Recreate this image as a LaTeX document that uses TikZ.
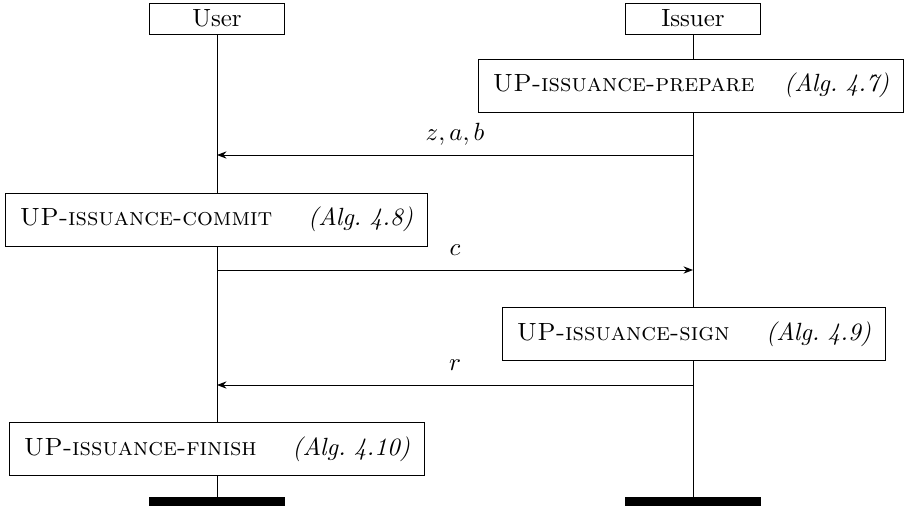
\documentclass[tikz,border=0pt]{standalone}
\usepackage{amsmath,amssymb}
\usepackage{tikz}
\usetikzlibrary{positioning, arrows.meta}

\begin{document}
\begin{tikzpicture}[x=0.4014pt, y=-0.4014pt, >={Stealth[length=3.8pt,width=2.9pt]},
        thread/.style={draw, fill=white, minimum width=54.2pt, minimum height=12.44pt, inner sep=0pt},
        callbox/.style={draw, fill=white, minimum height=21.27pt, inner xsep=5.62pt, inner ysep=0pt, align=left},
        threadend/.style={fill=black, minimum width=54.2pt, minimum height=3.61pt, inner sep=0pt},
        msglabel/.style={above=5.62pt, inner sep=0pt, text depth=0pt}]
        \useasboundingbox (0,0) rectangle (904,507);

        % Threads
        \node (user) [thread] at (217,18.5) {User};
        \node (issuer) [thread] at (693,18.5) {Issuer};
        \node (user-end) [threadend] at (217,501.5) {};
        \node (issuer-end) [threadend] at (693,501.5) {};
        \draw (user) -- (user-end);
        \draw (issuer) -- (issuer-end);

        % Calls
        \node (prepare) [callbox, text width=158.96pt] at (691,85.5)
            {\textsc{UP-issuance-prepare}\hfill\textit{(Alg.\ 4.7)}};
        \node (commit) [callbox, text width=157.75pt] at (216.5,219.5)
            {\textsc{UP-issuance-commit}\hfill\textit{(Alg.\ 4.8)}};
        \node (sign) [callbox, text width=142.1pt] at (694,334)
            {\textsc{UP-issuance-sign}\hfill\textit{(Alg.\ 4.9)}};
        \node (finish) [callbox, text width=154.95pt] at (217,449)
            {\textsc{UP-issuance-finish}\hfill\textit{(Alg.\ 4.10)}};

        % Messages
        \coordinate (zab-from) at (693,155);
        \coordinate (zab-to) at (217,155);
        \coordinate (c-from) at (217,270);
        \coordinate (c-to) at (693,270);
        \coordinate (r-from) at (693,385);
        \coordinate (r-to) at (217,385);

        \draw[->] (zab-from) -- node[msglabel] {$z,a,b$} (zab-to);
        \draw[->] (c-from) -- node[msglabel] {$c$} (c-to);
        \draw[->] (r-from) -- node[msglabel] {$r$} (r-to);

    \end{tikzpicture}
\end{document}
